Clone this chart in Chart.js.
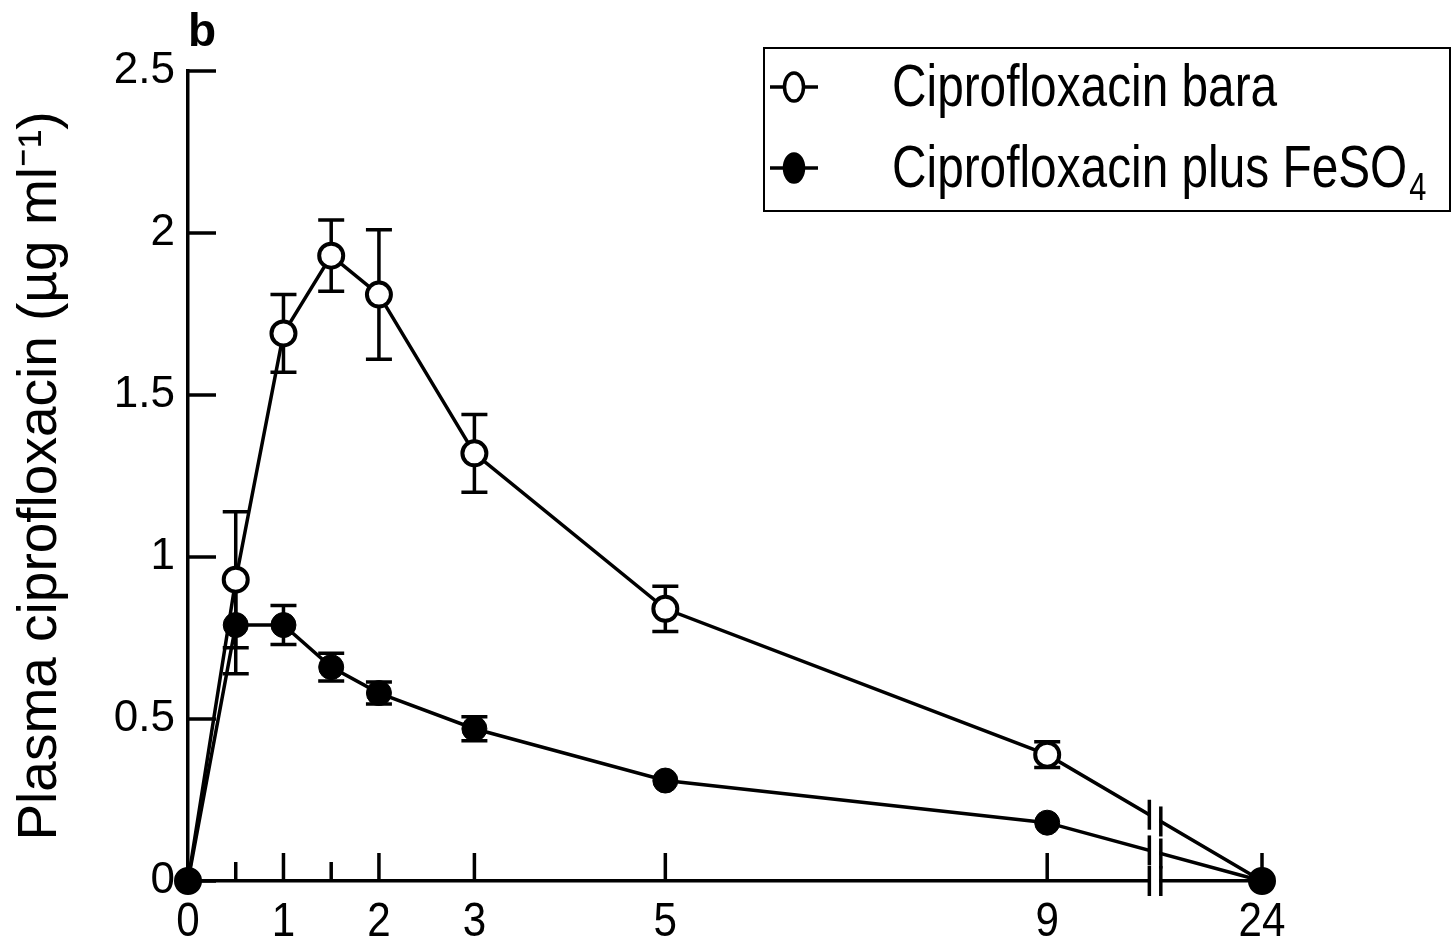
<!DOCTYPE html>
<html>
<head>
<meta charset="utf-8">
<script src="https://cdn.jsdelivr.net/npm/chart.js@4"></script>
<style>
  html, body { margin: 0; padding: 0; background: #fff; }
  #wrap { width: 1453px; height: 944px; }
</style>
</head>
<body>
<div id="wrap"><canvas id="chart" width="1453" height="944"></canvas></div>
<script>
/* ------------------------------------------------------------
   Data (hours after dose, µg/ml)
------------------------------------------------------------ */
const times = [0, 0.5, 1, 1.5, 2, 3, 5, 9, 24];
const xTickLabels = ["0", "", "1", "", "2", "3", "5", "9", "24"];

const baraMean = [0, 0.93, 1.69, 1.93, 1.81, 1.32, 0.84, 0.39, 0];
const baraErr  = [0, 0.21, 0.12, 0.11, 0.20, 0.12, 0.07, 0.04, 0];

const feMean = [0, 0.79, 0.79, 0.66, 0.58, 0.47, 0.31, 0.18, 0];
const feErr  = [0, 0.15, 0.06, 0.043, 0.034, 0.037, 0, 0, 0];

const legendLabels = ["Ciprofloxacin bara", "Ciprofloxacin plus FeSO"];

// broken axis: everything after 9 h is squeezed onto this axis position
const POS_24 = 11.25;
const BREAK_AT = [10.07, 10.19];
function axisPos(t) { return t > 9 ? POS_24 : t; }

const SANS = "'Liberation Sans', Arial, sans-serif";

function toPoints(means) {
    return times.map((t, i) => ({ x: axisPos(t), y: means[i] }));
}

// narrow text: draw Liberation Sans squeezed horizontally
function narrowText(ctx, text, x, y, size, squeeze, align) {
    ctx.save();
    ctx.font = size + "px " + SANS;
    ctx.translate(x, y);
    ctx.scale(squeeze, 1);
    ctx.textAlign = align || "left";
    ctx.fillText(text, 0, 0);
    const w = ctx.measureText(text).width * squeeze;
    ctx.restore();
    return w;
}

/* ------------------------------------------------------------
   Plugin: ticks pointing inward, error bars, axis break, legend
------------------------------------------------------------ */
const extras = {
    id: "extras",
    beforeDatasetsDraw(chart) {
        const ctx = chart.ctx;
        const xs = chart.scales.x, ys = chart.scales.y;
        const area = chart.chartArea;
        ctx.save();
        ctx.strokeStyle = "#000";
        ctx.lineWidth = 3.5;
        ctx.lineCap = "butt";

        // y ticks
        ys.ticks.forEach(t => {
            const py = ys.getPixelForValue(t.value);
            ctx.beginPath();
            ctx.moveTo(area.left, py);
            ctx.lineTo(area.left + 28, py);
            ctx.stroke();
        });
        // x ticks + labels
        ctx.fillStyle = "#000";
        ctx.textBaseline = "top";
        xs.ticks.forEach((t, i) => {
            const px = xs.getPixelForValue(t.value);
            if (t.value !== 0) {
                const len = (t.value === 0.5 || t.value === 1.5) ? 19 : 28;
                ctx.beginPath();
                ctx.moveTo(px, area.bottom);
                ctx.lineTo(px, area.bottom - len);
                ctx.stroke();
            }
            if (xTickLabels[i]) narrowText(ctx, xTickLabels[i], px, area.bottom + 17, 49, 0.86, "center");
        });

        // error bars
        const series = [[baraMean, baraErr], [feMean, feErr]];
        ctx.lineWidth = 3.5;
        series.forEach(([m, e]) => {
            times.forEach((t, i) => {
                if (!e[i]) return;
                const px = xs.getPixelForValue(axisPos(t));
                const top = ys.getPixelForValue(m[i] + e[i]);
                const bot = ys.getPixelForValue(m[i] - e[i]);
                ctx.beginPath();
                ctx.moveTo(px, top); ctx.lineTo(px, bot);
                ctx.moveTo(px - 13, top); ctx.lineTo(px + 13, top);
                ctx.moveTo(px - 13, bot); ctx.lineTo(px + 13, bot);
                ctx.stroke();
            });
        });
        ctx.restore();
    },
    afterDatasetsDraw(chart) {
        const ctx = chart.ctx;
        const xs = chart.scales.x;
        const area = chart.chartArea;
        const b1 = xs.getPixelForValue(BREAK_AT[0]);
        const b2 = xs.getPixelForValue(BREAK_AT[1]);

        ctx.save();
        // gap in lines and axis
        ctx.fillStyle = "#fff";
        ctx.fillRect(b1 + 1.5, area.top, b2 - b1 - 3, area.bottom - area.top + 6);

        // the double bars, on each line and on the axis
        const crossings = [area.bottom];
        chart.data.datasets.forEach((ds, di) => {
            const pts = chart.getDatasetMeta(di).data;
            crossings.push({ a: pts[pts.length - 2], b: pts[pts.length - 1] });
        });
        ctx.strokeStyle = "#000";
        ctx.lineWidth = 3.5;
        [b1, b2].forEach(bx => {
            crossings.forEach(c => {
                const cy = typeof c === "number" ? c
                    : c.a.y + (c.b.y - c.a.y) * (bx - c.a.x) / (c.b.x - c.a.x);
                ctx.beginPath();
                ctx.moveTo(bx, cy - 15);
                ctx.lineTo(bx, cy + 15);
                ctx.stroke();
            });
        });
        ctx.restore();
    },
    afterDraw(chart) {
        const ctx = chart.ctx;
        ctx.save();
        // panel letter
        ctx.fillStyle = "#000";
        ctx.font = "bold 46px " + SANS;
        ctx.textBaseline = "alphabetic";
        ctx.fillText("b", 188, 46);

        // legend box
        ctx.strokeStyle = "#000";
        ctx.lineWidth = 2;
        ctx.strokeRect(764, 48, 686, 163);

        const rows = [87, 168];
        rows.forEach((ry, i) => {
            ctx.lineWidth = 3.5;
            ctx.beginPath();
            ctx.moveTo(770, ry);
            ctx.lineTo(818, ry);
            ctx.stroke();
            ctx.beginPath();
            ctx.ellipse(794, ry, 9.5, 14, 0, 0, Math.PI * 2);
            ctx.fillStyle = i === 0 ? "#fff" : "#000";
            ctx.fill();
            ctx.stroke();

            ctx.fillStyle = "#000";
            ctx.textBaseline = "alphabetic";
            const w = narrowText(ctx, legendLabels[i], 892, ry + 19, 59, 0.81);
            if (i === 1) narrowText(ctx, "4", 892 + w + 2, ry + 32, 38, 0.81);
        });
        ctx.restore();
    }
};

/* ------------------------------------------------------------
   Chart
------------------------------------------------------------ */
const ctx = document.getElementById("chart");

new Chart(ctx, {
    type: "line",
    data: {
        datasets: [{
            label: legendLabels[0],
            data: toPoints(baraMean),
            order: 1,
            borderColor: "#000",
            borderWidth: 3.5,
            pointRadius: 12,
            pointBorderWidth: 4,
            pointBackgroundColor: "#fff",
            pointBorderColor: "#000",
            tension: 0,
            clip: false
        }, {
            label: legendLabels[1],
            data: toPoints(feMean),
            order: 0,
            borderColor: "#000",
            borderWidth: 3.5,
            pointRadius: 12.5,
            pointBorderWidth: 1,
            pointBackgroundColor: "#000",
            pointBorderColor: "#000",
            tension: 0,
            clip: false
        }]
    },
    options: {
        responsive: false,
        animation: false,
        layout: { padding: { top: 71, right: 191, left: 0, bottom: 0 } },
        plugins: {
            legend: { display: false },
            tooltip: { enabled: false }
        },
        scales: {
            x: {
                type: "linear",
                min: 0,
                max: POS_24,
                afterBuildTicks(scale) {
                    scale.ticks = times.map(t => ({ value: axisPos(t) }));
                },
                afterFit(scale) { scale.height = 63; },
                grid: { display: false, drawTicks: false },
                border: { display: true, color: "#000", width: 3.5 },
                ticks: { display: false }
            },
            y: {
                min: 0,
                max: 2.5,
                afterFit(scale) { scale.width = 188; },
                grid: { display: false, drawTicks: false },
                border: { display: true, color: "#000", width: 3.5 },
                ticks: {
                    stepSize: 0.5,
                    padding: 13,
                    color: "#000",
                    font: { family: SANS, size: 44 },
                    callback(value) { return String(value); }
                },
                title: {
                    display: true,
                    text: "Plasma ciprofloxacin (\u00b5g ml\u207b\u00b9)",
                    color: "#000",
                    font: { family: SANS, size: 55 },
                    padding: { top: 8, bottom: 0 }
                }
            }
        }
    },
    plugins: [extras]
});
</script>
</body>
</html>
